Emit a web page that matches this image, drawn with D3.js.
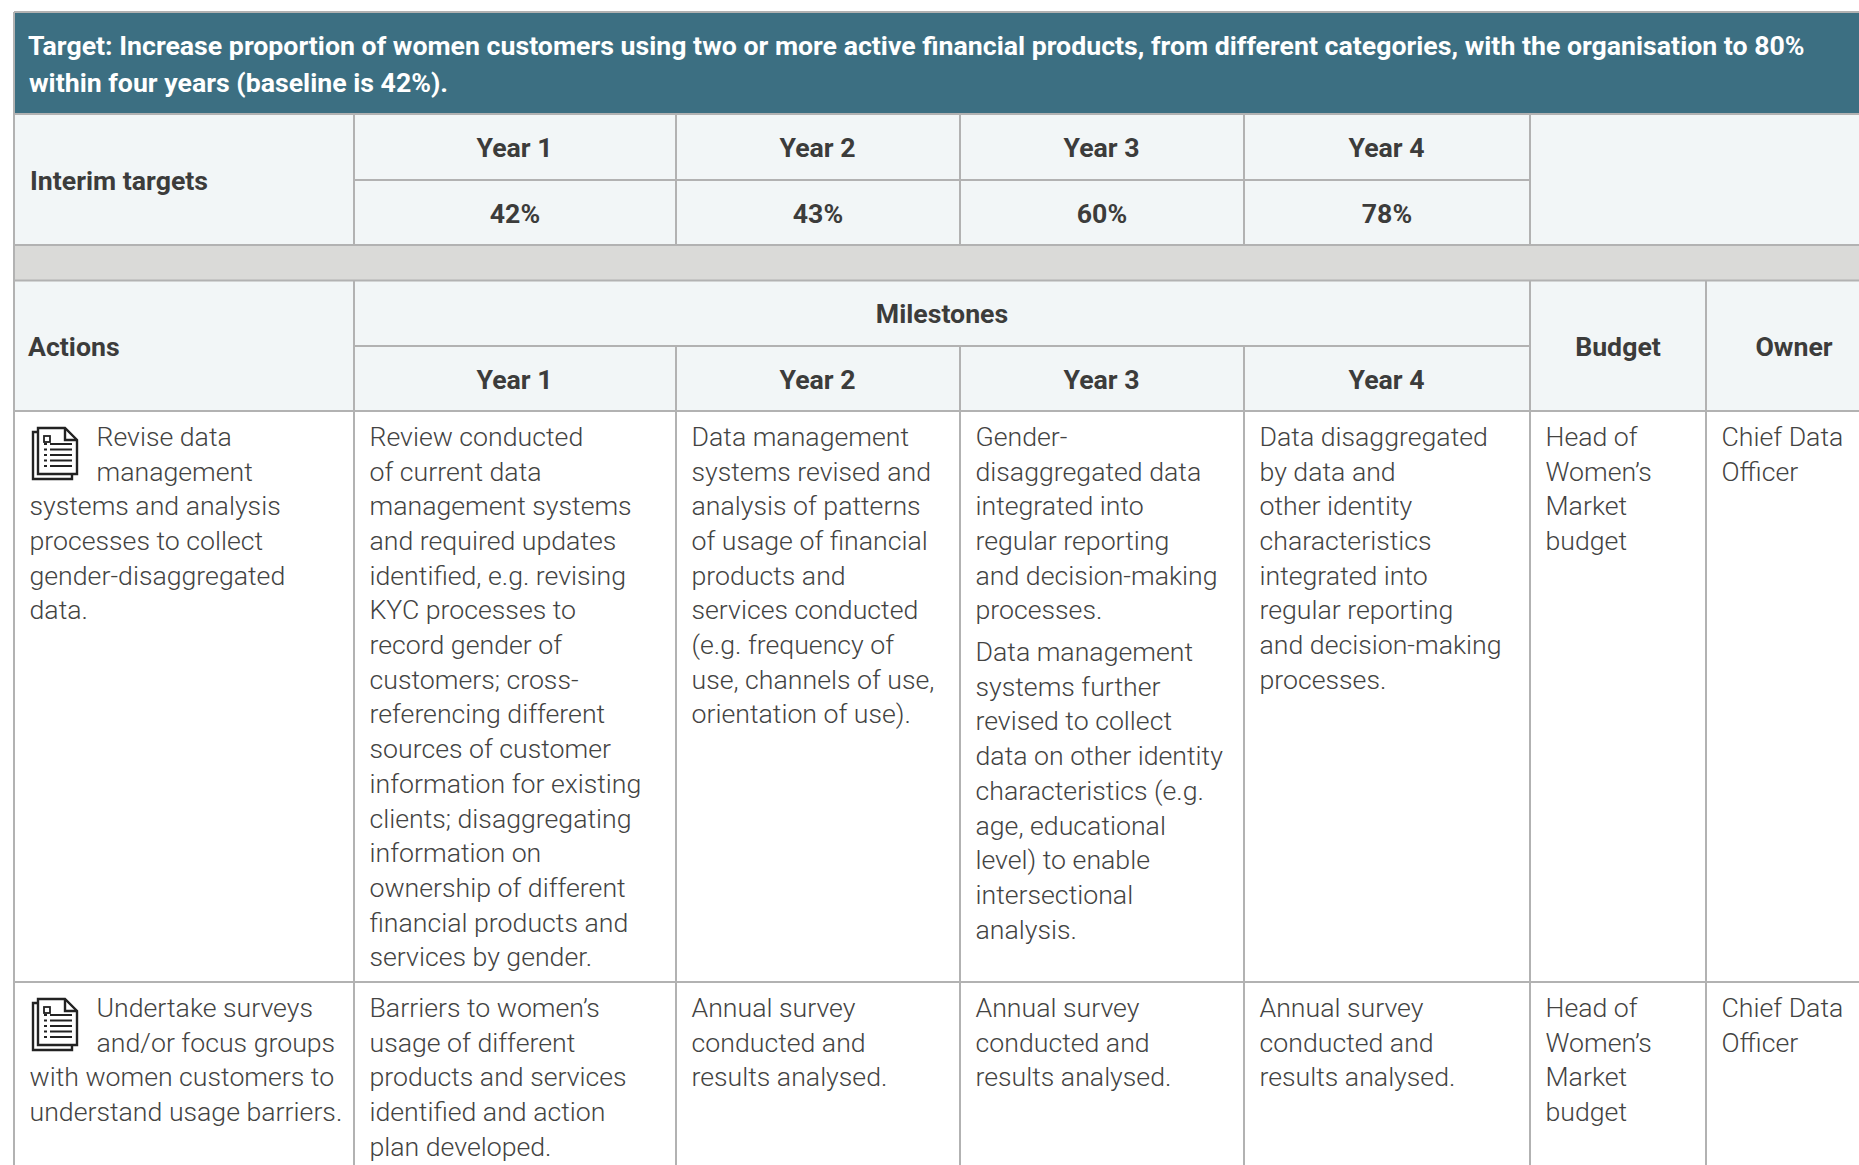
<!DOCTYPE html>
<html>
<head>
<meta charset="utf-8">
<title>Target table</title>
<script src="https://cdnjs.cloudflare.com/ajax/libs/d3/7.8.5/d3.min.js"></script>
<style>
html, body { margin: 0; padding: 0; background: #fff; overflow: hidden; }
svg { display: block; font-family: Roboto, sans-serif; }
.head { font-size: 26.7px; font-weight: 700; fill: #3c3c3b; }
.body { font-size: 26.7px; font-weight: 300; fill: #434342; }
.title { font-size: 26.7px; font-weight: 700; fill: #fff; }
</style>
</head>
<body>
<script>
(function(document, window){
'use strict';

var titleLines = ['Target: Increase proportion of women customers using two or more active financial products, from different categories, with the organisation to 80%',
				'within four years (baseline is 42%).'];
var years = ['Year 1', 'Year 2', 'Year 3', 'Year 4'];
var interimTargets = ['42%', '43%', '60%', '78%'];

var actions = ['Revise data\nmanagement\nsystems and analysis\nprocesses to collect\ngender-disaggregated\ndata.',
				'Undertake surveys\nand/or focus groups\nwith women customers to\nunderstand usage barriers.'];
var year1Milestones = ['Review conducted\nof current data\nmanagement systems\nand required updates\nidentified, e.g. revising\nKYC processes to\nrecord gender of\ncustomers; cross-\nreferencing different\nsources of customer\ninformation for existing\nclients; disaggregating\ninformation on\nownership of different\nfinancial products and\nservices by gender.',
				'Barriers to women\u2019s\nusage of different\nproducts and services\nidentified and action\nplan developed.'];
var year2Milestones = ['Data management\nsystems revised and\nanalysis of patterns\nof usage of financial\nproducts and\nservices conducted\n(e.g. frequency of\nuse, channels of use,\norientation of use).',
				'Annual survey\nconducted and\nresults analysed.'];
var year3Milestones = ['Gender-\ndisaggregated data\nintegrated into\nregular reporting\nand decision-making\nprocesses.\n\nData management\nsystems further\nrevised to collect\ndata on other identity\ncharacteristics (e.g.\nage, educational\nlevel) to enable\nintersectional\nanalysis.',
				'Annual survey\nconducted and\nresults analysed.'];
var year4Milestones = ['Data disaggregated\nby data and\nother identity\ncharacteristics\nintegrated into\nregular reporting\nand decision-making\nprocesses.',
				'Annual survey\nconducted and\nresults analysed.'];
var budgets = ['Head of\nWomen\u2019s\nMarket\nbudget', 'Head of\nWomen\u2019s\nMarket\nbudget'];
var owners = ['Chief Data\nOfficer', 'Chief Data\nOfficer'];

var width = 1859;
var height = 1165;

// layout of the table, all edges in px
var colEdges = [14, 354, 676, 960, 1244, 1530, 1706, 1900];
var ruleY = {top: 12, title: 114, interimMid: 180, interim: 245, band: 280.5, mileMid: 346, head: 411, row1: 982, bottom: 1200};
var lineHeight = 34.7;
var paraGap = 7;
var pad = 15.5;
var iconIndent = 67;

var border = '#b2b2b2';
var headFill = '#f2f6f7';

var svg = d3.select('body').append('svg')
			.attr('width', width)
			.attr('height', height);

function rect(x0, y0, x1, y1, fill){
	svg.append('rect')
		.attr('x', x0).attr('y', y0)
		.attr('width', x1 - x0).attr('height', y1 - y0)
		.attr('fill', fill);
}

function rule(x0, y0, x1, y1){
	svg.append('line')
		.attr('x1', x0).attr('y1', y0)
		.attr('x2', x1).attr('y2', y1)
		.attr('stroke', border)
		.attr('stroke-width', 2);
}

function label(txt, x, y, cls, anchor){
	svg.append('text')
		.attr('class', cls)
		.attr('x', x).attr('y', y)
		.attr('text-anchor', anchor || 'start')
		.text(txt);
}

function mid(i, j){
	return (colEdges[i] + colEdges[j]) / 2;
}

// backgrounds
rect(colEdges[0], ruleY.top, width, ruleY.title, '#3c6f82');
rect(colEdges[0], ruleY.title, width, ruleY.interim, headFill);
rect(colEdges[0], ruleY.interim, width, ruleY.band, '#dadad8');
rect(colEdges[0], ruleY.band, width, ruleY.head, headFill);

// horizontal rules
[ruleY.top, ruleY.title, ruleY.interim, ruleY.band, ruleY.head, ruleY.row1].forEach(function(y){
	rule(colEdges[0], y, width, y);
});
rule(colEdges[1], ruleY.interimMid, colEdges[5], ruleY.interimMid);
rule(colEdges[1], ruleY.mileMid, colEdges[5], ruleY.mileMid);

// vertical rules
rule(colEdges[0], ruleY.top, colEdges[0], ruleY.bottom);
[1, 5].forEach(function(i){
	rule(colEdges[i], ruleY.title, colEdges[i], ruleY.interim);
	rule(colEdges[i], ruleY.band, colEdges[i], ruleY.bottom);
});
[2, 3, 4].forEach(function(i){
	rule(colEdges[i], ruleY.title, colEdges[i], ruleY.interim);
	rule(colEdges[i], ruleY.mileMid, colEdges[i], ruleY.bottom);
});
rule(colEdges[6], ruleY.band, colEdges[6], ruleY.bottom);

// title
titleLines.forEach(function(t, i){
	label(t, 28 + i, 55 + i * 36.7, 'title');
});

// interim targets
label('Interim targets', 30, 190, 'head');
years.forEach(function(t, i){
	label(t, mid(i + 1, i + 2) - 0.5, 156.5, 'head', 'middle');
	label(interimTargets[i], mid(i + 1, i + 2), 222.5, 'head', 'middle');
	label(t, mid(i + 1, i + 2) - 0.5, 389, 'head', 'middle');
});

// milestones header
label('Actions', 28, 356, 'head');
label('Milestones', mid(1, 5), 323, 'head', 'middle');
label('Budget', mid(5, 6), 356, 'head', 'middle');
label('Owner', mid(6, 7) - 9, 356, 'head', 'middle');

function cellText(txt, x, rowTop, indentLines){
	var y = rowTop + 34.8;
	txt.split('\n').forEach(function(line, i){
		if(line === ''){
			y += paraGap - lineHeight;
		} else {
			label(line, i < indentLines ? x + iconIndent : x, y, 'body');
		}
		y += lineHeight;
	});
}

// document icon, drawn in its own 0..50 box
function icon(x, y){
	var g = svg.append('g')
				.attr('transform', 'translate(' + x + ',' + y + ')')
				.attr('fill', 'none')
				.attr('stroke', '#222')
				.attr('stroke-width', 2.4);
	g.append('path').attr('d', 'M6 5 H1 V52 H40 V47');
	g.append('path').attr('d', 'M6 1 H33 L45 13 V47 H6 Z').attr('fill', '#fff');
	g.append('path').attr('d', 'M33 1 V13 H45');
	g.append('rect').attr('x', 12).attr('y', 9).attr('width', 6).attr('height', 6).attr('stroke-width', 1.8);
	[17, 22.5, 28, 33.5, 39].forEach(function(ly){
		g.append('path').attr('d', 'M12 ' + ly + ' H15 M18 ' + ly + ' H40').attr('stroke-width', 1.9);
	});
}

var rowTops = [ruleY.head, ruleY.row1];
var columns = [year1Milestones, year2Milestones, year3Milestones, year4Milestones, budgets, owners];

rowTops.forEach(function(top, r){
	cellText(actions[r], colEdges[0] + pad, top, 2);
	icon(colEdges[0] + 18, top + 16);
	columns.forEach(function(col, c){
		cellText(col[r], colEdges[c + 1] + pad, top, 0);
	});
});

})(document, window);
</script>
</body>
</html>
